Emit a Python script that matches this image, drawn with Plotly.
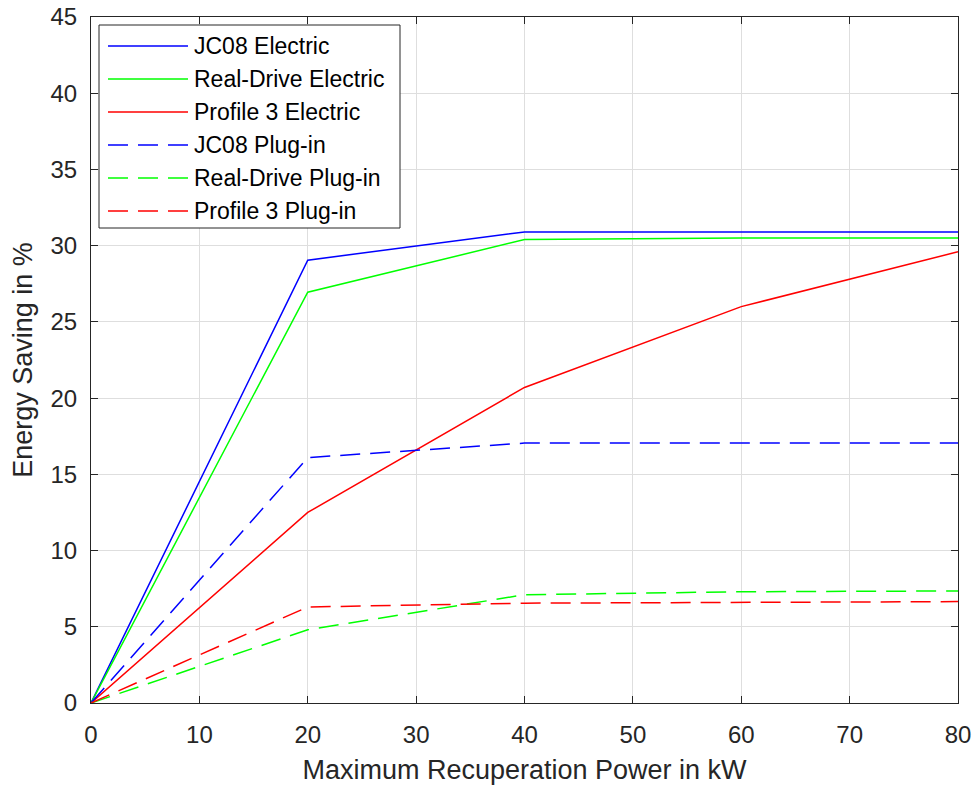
import plotly.graph_objects as go

power_kw = [0, 20, 40, 60, 80]
jc08_electric = [0, 29.05, 30.9, 30.9, 30.9]
realdrive_electric = [0, 26.95, 30.4, 30.5, 30.5]
profile3_electric = [0, 12.5, 20.7, 26.0, 29.6]
jc08_plugin = [0, 16.1, 17.05, 17.05, 17.05]
realdrive_plugin = [0, 4.8, 7.1, 7.3, 7.35]
profile3_plugin = [0, 6.3, 6.55, 6.6, 6.65]

series_names = ["JC08 Electric", "Real-Drive Electric", "Profile 3 Electric",
                "JC08 Plug-in", "Real-Drive Plug-in", "Profile 3 Plug-in"]
series_values = [jc08_electric, realdrive_electric, profile3_electric,
                 jc08_plugin, realdrive_plugin, profile3_plugin]
series_colors = ["#0000ff", "#00ff00", "#ff0000", "#0000ff", "#00ff00", "#ff0000"]
series_dash = ["solid", "solid", "solid", "20px,10px", "20px,10px", "20px,10px"]

W, H = 978, 787
ML, MR, MT, MB = 91, 20, 17, 84
PW, PH = W - ML - MR, H - MT - MB

def px_x(px):
    return (px - ML) / PW

def px_y(py):
    return (H - MB - py) / PH

fig = go.Figure()
for name, vals, color, dash in zip(series_names, series_values, series_colors, series_dash):
    fig.add_trace(go.Scatter(x=power_kw, y=vals, mode="lines", name=name, showlegend=False,
                             line=dict(color=color, width=1.5, dash=dash)))

# Manual MATLAB-style legend
shapes = [dict(type="rect", xref="paper", yref="paper",
               x0=px_x(99), x1=px_x(400), y0=px_y(228), y1=px_y(25),
               line=dict(color="#262626", width=1), fillcolor="white", layer="above")]
annotations = []
row0, row_step = 46, 33
for i, (name, color, dash) in enumerate(zip(series_names, series_colors, series_dash)):
    yy = px_y(row0 + i * row_step)
    shapes.append(dict(type="line", xref="paper", yref="paper",
                       x0=px_x(108), x1=px_x(188), y0=yy, y1=yy,
                       line=dict(color=color, width=1.5, dash=dash), layer="above"))
    annotations.append(dict(text=name, xref="paper", yref="paper", x=px_x(192), y=yy,
                            xanchor="left", yanchor="middle", showarrow=False,
                            font=dict(size=23, color="#000000")))

axis_common = dict(showline=True, linecolor="#262626", linewidth=1, mirror="ticks",
                   ticks="inside", ticklen=7, tickcolor="#262626", automargin=False,
                   showgrid=True, gridcolor="#dedede", gridwidth=1, zeroline=False,
                   tickfont=dict(size=24, color="#262626"))

fig.update_layout(
    width=W, height=H,
    margin=dict(l=ML, r=MR, t=MT, b=MB, autoexpand=False),
    paper_bgcolor="white", plot_bgcolor="white",
    font=dict(family="Liberation Sans, Arial, sans-serif", color="#262626"),
    xaxis=dict(range=[0, 80], dtick=10, ticklabelstandoff=10,
               title=dict(text="Maximum Recuperation Power in kW", font=dict(size=27), standoff=13),
               **axis_common),
    yaxis=dict(range=[0, 45], dtick=5, ticklabelstandoff=8,
               title=dict(text="Energy Saving in %", font=dict(size=27), standoff=10),
               **axis_common),
    shapes=shapes,
    annotations=annotations,
    showlegend=False,
)

fig.write_html("out.html")
